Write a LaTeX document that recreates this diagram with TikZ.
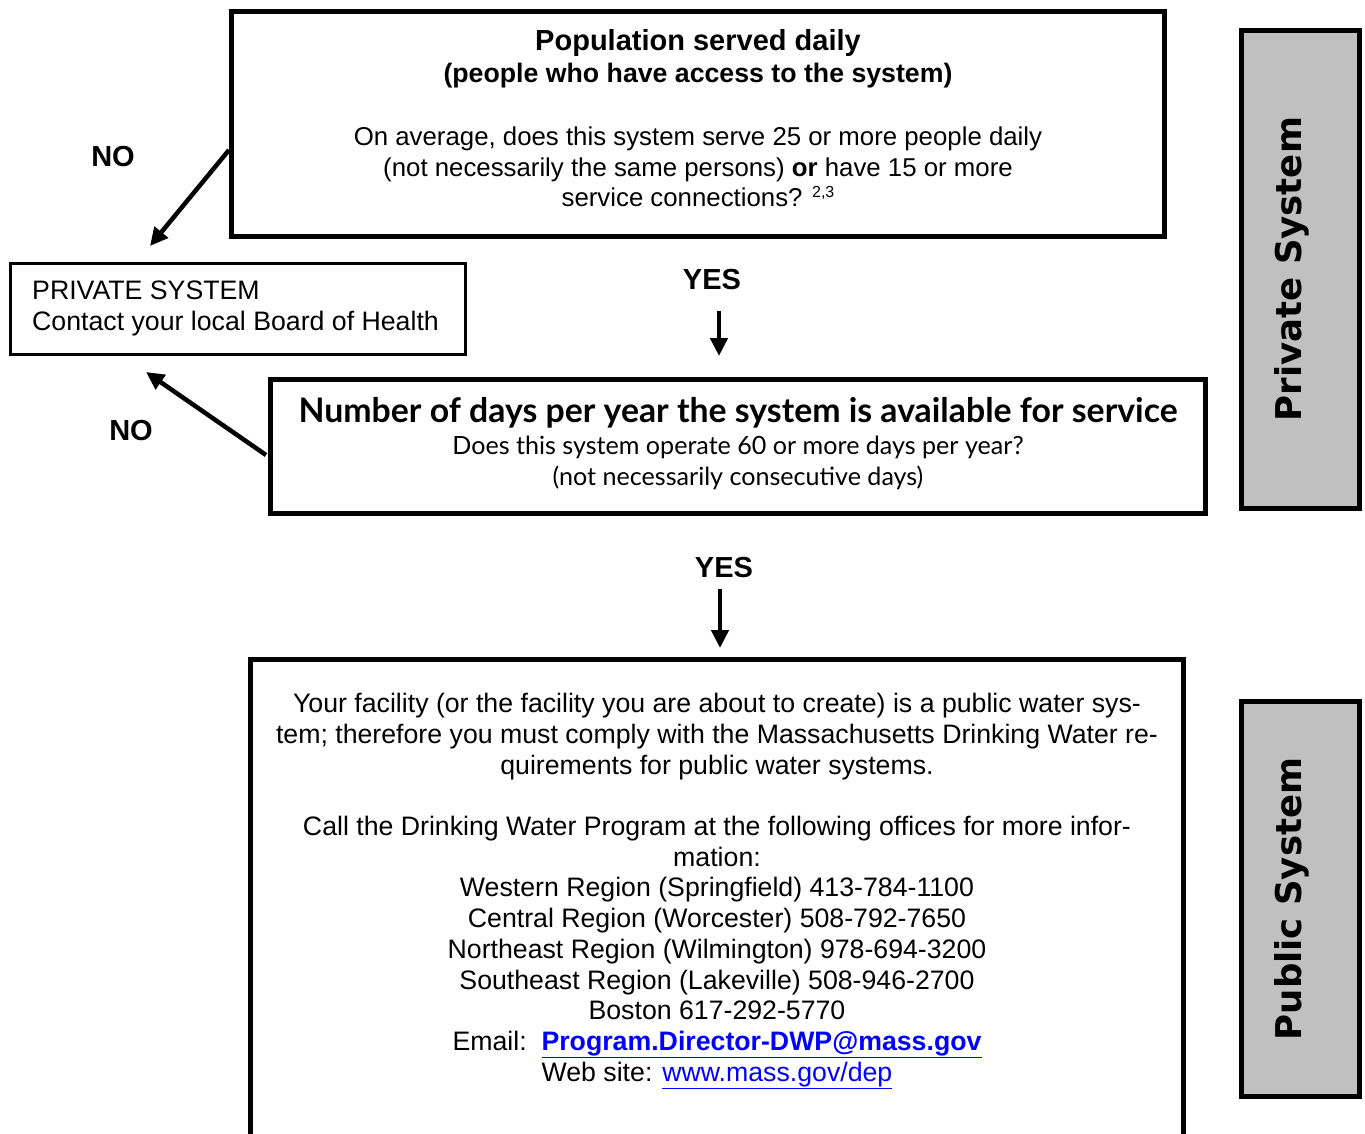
\documentclass[tikz,border=0pt]{standalone}
\usepackage{fontspec}
\setmainfont{Liberation Sans}
\newfontfamily\gillfont{Lato}
\newfontfamily\blackfont{DejaVu Sans}
\usetikzlibrary{arrows.meta}
\definecolor{bargray}{HTML}{C0C0C0}
\definecolor{linkblue}{HTML}{0000FF}
\begin{document}
\begin{tikzpicture}[x=1pt,y=-1pt,
  frame/.style={draw=black, line width=5pt, inner sep=0pt, outer sep=0pt},
  sidebar/.style={frame, fill=bargray},
  flowarrow/.style={line width=4.5pt, -{Triangle[length=18pt,width=17pt]}},
  answer/.style={font=\fontsize{29}{32}\selectfont\bfseries, inner sep=0pt},
  body/.style={font=\fontsize{26.7}{30.7}\selectfont, align=center, inner sep=0pt},
  barlabel/.style={rotate=90, font=\blackfont\bfseries\fontsize{35.5}{40}\selectfont, inner sep=0pt}]
\useasboundingbox (0,0) rectangle (1365,1134);
% boxes
\node[frame, minimum width=933pt, minimum height=225pt] (pop) at (698,124) {};
\node[frame, line width=3pt, minimum width=455pt, minimum height=91pt] (priv) at (238,309) {};
\node[frame, minimum width=935pt, minimum height=134pt] (days) at (738,446.5) {};
\node[frame, minimum width=933pt, minimum height=480pt] (pub) at (717,899.5) {};
\node[sidebar, minimum width=118pt, minimum height=478pt] (privbar) at (1300.5,269.5) {};
\node[sidebar, minimum width=118pt, minimum height=395pt] (pubbar) at (1300.5,899) {};
% side labels
\node[barlabel] (privlbl) at (1292,269) {Private System};
\node[barlabel] (publbl) at (1292,899) {Public System};
% texts
\node[body, font=\fontsize{26.7}{32}\selectfont\bfseries] (pophead) at (698,58.5)
  {{\fontsize{29}{32}\selectfont Population served daily}\\(people who have access to the system)};
\node[body, font=\fontsize{25.8}{30.7}\selectfont] (popq) at (698,167)
  {On average, does this system serve 25 or more people daily\\
   (not necessarily the same persons) \textbf{or} have 15 or more\\
   service connections? {\fontsize{16}{16}\selectfont\raisebox{9pt}{2,3}}};
\node[font=\fontsize{26.7}{30.7}\selectfont, align=left, anchor=west, inner sep=0pt] (privtxt) at (32,308.5)
  {PRIVATE SYSTEM\\Contact your local Board of Health};
\node[font=\gillfont\bfseries\fontsize{33.8}{36}\selectfont, inner sep=0pt] (dayshead) at (738,413)
  {Number of days per year the system is available for service};
\node[body, font=\gillfont\fontsize{25.1}{30.7}\selectfont] (daysq) at (738,463)
  {Does this system operate 60 or more days per year?\\(not necessarily consecutive days)};
\node[body] (pubtxt) at (717,891)
  {Your facility (or the facility you are about to create) is a public water sys-\\
   tem; therefore you must comply with the Massachusetts Drinking Water re-\\
   quirements for public water systems.\\[30.7pt]
   Call the Drinking Water Program at the following offices for more infor-\\
   mation:\\
   Western Region (Springfield) 413-784-1100\\
   Central Region (Worcester) 508-792-7650\\
   Northeast Region (Wilmington) 978-694-3200\\
   Southeast Region (Lakeville) 508-946-2700\\
   Boston 617-292-5770\\
   Email:\ \ \textcolor{linkblue}{\bfseries\underline{Program.Director-DWP@mass.gov}}\\
   Web site: \textcolor{linkblue}{\underline{www.mass.gov/dep}}};
% answers
\node[answer] (no1) at (113,157) {NO};
\node[answer] (yes1) at (712,280) {YES};
\node[answer] (no2) at (131,431) {NO};
\node[answer] (yes2) at (724,568) {YES};
% connectors
\coordinate (a1s) at (229,150);
\coordinate (a1e) at (150,246);
\coordinate (a2s) at (719,311);
\coordinate (a2e) at (719,356);
\coordinate (a3s) at (266,455);
\coordinate (a3e) at (146,372);
\coordinate (a4s) at (720,589);
\coordinate (a4e) at (720,648);
\draw[flowarrow] (a1s) -- (a1e);
\draw[flowarrow] (a2s) -- (a2e);
\draw[flowarrow] (a3s) -- (a3e);
\draw[flowarrow] (a4s) -- (a4e);
\end{tikzpicture}
\end{document}
